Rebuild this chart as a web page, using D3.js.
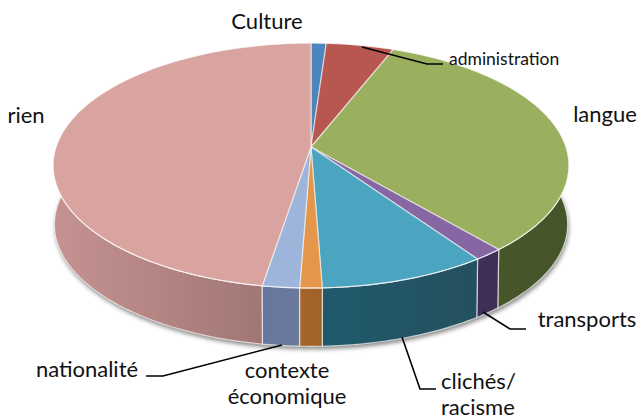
<!DOCTYPE html>
<html>
<head>
<meta charset="utf-8">
<script src="https://cdnjs.cloudflare.com/ajax/libs/d3/7.8.5/d3.min.js"></script>
<style>
    html, body { margin: 0; padding: 0; background: #fff; }
    text { font-family: Lato, "Open Sans", sans-serif; fill: #111; }
</style>
</head>
<body>
<svg id="chart" width="641" height="419"></svg>
<script>
const categories = ["Culture", "administration", "langue", "transports", "clichés/racisme",
    "contexte économique", "nationalité", "rien"];
const shares = [1.1, 4.9, 32.7, 1.6, 9.1, 1.2, 2.0, 47.4];
const topColors = ["#4f85bd", "#b85650", "#9bb05e", "#8667a3", "#4ba5c0", "#e4974a", "#9db5da", "#d9a3a0"];
const wallLeft = ["#3a6190", "#8c3e3a", "#4a5a28", "#3f2e55", "#1f5a6c", "#a8652a", "#64779c", "#c59391"];
const wallRight = ["#3a6190", "#8c3e3a", "#46542a", "#3f2e55", "#24505f", "#a06228", "#6c7a9c", "#99706f"];

// apex of the slices and the perspective of the disc
const CX = 311, CY = 147, DEPTH = 59;
const A = 119.7, B = 255, C = 0.151;

const svg = d3.select("#chart");
const defs = svg.append("defs");

defs.append("filter").attr("id", "shadow")
    .attr("x", "-5%").attr("y", "-5%").attr("width", "110%").attr("height", "110%")
    .append("feGaussianBlur").attr("stdDeviation", 2);

function project(theta, scale, dy) {
    let u = Math.sin(theta), v = -Math.cos(theta), w = 1 - C * v;
    return [CX + scale * B * u / w, CY + dy + scale * A * v / w];
}

function rimPoints(start, end, scale, dy) {
    let n = Math.max(2, Math.ceil((end - start) / 0.02));
    return d3.range(n + 1).map((i) => project(start + (end - start) * i / n, scale, dy));
}

const line = d3.line();
const slices = d3.pie().sort(null)(shares);
const full = rimPoints(0, 2 * Math.PI, 1, 0);
const fullBottom = rimPoints(0, 2 * Math.PI, 0.995, DEPTH + 1);

// soft shadow under the bottom rim
svg.append("path")
    .attr("d", line(fullBottom) + "Z")
    .attr("transform", "translate(1,2)")
    .attr("fill", "#8a8a8a")
    .attr("filter", "url(#shadow)");

// side walls
let order = slices.map((s, i) => i)
    .sort((a, b) => project((slices[a].startAngle + slices[a].endAngle) / 2, 1, 0)[1]
        - project((slices[b].startAngle + slices[b].endAngle) / 2, 1, 0)[1]);

order.forEach((i) => {
    let s = slices[i];
    let top = rimPoints(s.startAngle, s.endAngle, 1, 0);
    let bottom = rimPoints(s.startAngle, s.endAngle, 0.995, DEPTH).reverse();

    let gradient = defs.append("linearGradient").attr("id", "wall" + i);
    gradient.append("stop").attr("offset", "0%").attr("stop-color", wallLeft[i]);
    gradient.append("stop").attr("offset", "100%").attr("stop-color", wallRight[i]);

    svg.append("path")
        .attr("d", line(top.concat(bottom)) + "Z")
        .attr("fill", "url(#wall" + i + ")")
        .attr("stroke", "#fff")
        .attr("stroke-opacity", 0.65)
        .attr("stroke-width", 1.2);
});

// top face
slices.forEach((s, i) => {
    let pts = [[CX, CY]].concat(rimPoints(s.startAngle, s.endAngle, 1, 0));
    svg.append("path")
        .attr("d", line(pts) + "Z")
        .attr("fill", topColors[i])
        .attr("stroke", "#fff")
        .attr("stroke-opacity", 0.6)
        .attr("stroke-width", 1.2);
});

svg.append("path")
    .attr("d", line(full) + "Z")
    .attr("fill", "none")
    .attr("stroke", "#fff")
    .attr("stroke-opacity", 0.55);

// leader lines
const leaders = [
    [[362, 47], [427, 64], [443, 64]],
    [[483, 312], [510, 329], [526, 329]],
    [[402, 337], [420, 389], [436, 389]],
    [[282, 345], [163, 376], [146, 376]]
];
leaders.forEach((d) => {
    svg.append("path")
        .attr("d", line(d))
        .attr("fill", "none")
        .attr("stroke", "#000")
        .attr("stroke-width", 1.6);
});

// labels
const labels = [
    { text: "Culture", x: 267, y: 29, size: 22, anchor: "middle" },
    { text: "administration", x: 449, y: 65, size: 17.5, anchor: "start" },
    { text: "langue", x: 605, y: 122, size: 22, anchor: "middle" },
    { text: "rien", x: 26, y: 123, size: 22, anchor: "middle" },
    { text: "transports", x: 587, y: 327, size: 22, anchor: "middle" },
    { text: "clichés/", x: 441, y: 389, size: 22, anchor: "start" },
    { text: "racisme", x: 441, y: 415, size: 22, anchor: "start" },
    { text: "contexte", x: 287, y: 378, size: 22, anchor: "middle" },
    { text: "économique", x: 287, y: 404, size: 22, anchor: "middle" },
    { text: "nationalité", x: 87, y: 377, size: 22, anchor: "middle" }
];
labels.forEach((d) => {
    svg.append("text")
        .attr("x", d.x)
        .attr("y", d.y)
        .attr("text-anchor", d.anchor)
        .style("font-size", d.size + "px")
        .text(d.text);
});
</script>
</body>
</html>
